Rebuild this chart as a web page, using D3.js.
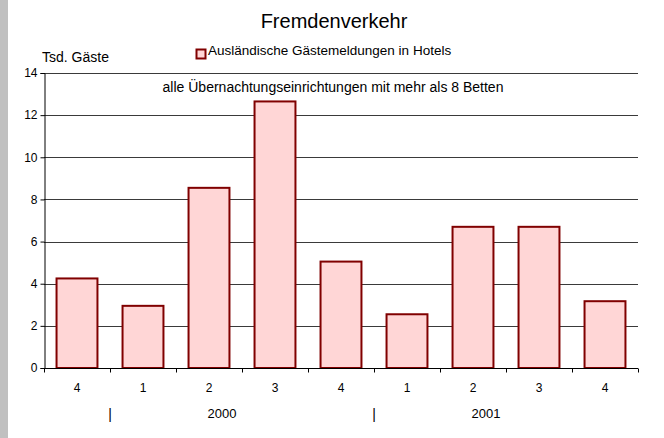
<!DOCTYPE html>
<html>
<head>
<meta charset="utf-8">
<script src="https://cdn.jsdelivr.net/npm/d3@7"></script>
<style>
  html, body { margin: 0; padding: 0; background: #fff; }
  svg text { font-family: "Liberation Sans", Arial, sans-serif; fill: #000; }
</style>
</head>
<body>
<svg id="chart" width="664" height="438"></svg>
<script>
// ---------- data ----------
const quarters = ['4', '1', '2', '3', '4', '1', '2', '3', '4'];
const guests = [4.25, 2.95, 8.55, 12.65, 5.05, 2.55, 6.7, 6.7, 3.17];
const yTicks = [0, 2, 4, 6, 8, 10, 12, 14];
const years = [{ label: '2000', start: 1 }, { label: '2001', start: 5 }];

(function () {
  // ---------- layout ----------
  const svg = d3.select('#chart');
  const plotL = 44, plotR = 638, plotT = 73, plotB = 368;

  svg.append('rect').attr('x', 0).attr('y', 0).attr('width', 8).attr('height', 438).attr('fill', '#c0c0c0');

  const x = d3.scaleBand().domain(d3.range(quarters.length)).range([plotL, plotR])
    .paddingInner(0.38).paddingOuter(0.19);
  const y = d3.scaleLinear().domain([0, 14]).range([plotB, plotT]);

  // gridlines
  svg.append('g').selectAll('line').data(yTicks.filter(d => d > 0)).enter().append('line')
    .attr('x1', plotL).attr('x2', plotR)
    .attr('y1', d => Math.round(y(d)) + 0.5).attr('y2', d => Math.round(y(d)) + 0.5)
    .attr('stroke', '#3a3a3a').attr('stroke-width', 1);

  // bars
  svg.append('g').selectAll('rect').data(guests).enter().append('rect')
    .attr('x', (d, i) => x(i))
    .attr('y', d => y(d))
    .attr('width', x.bandwidth())
    .attr('height', d => y(0) - y(d))
    .attr('fill', '#ffd6d6')
    .attr('stroke', '#800000')
    .attr('stroke-width', 2);

  // y axis
  const yAxis = svg.append('g').attr('transform', `translate(${plotL + 0.5},0)`)
    .call(d3.axisLeft(y).tickValues(yTicks).tickSize(4).tickPadding(3));
  yAxis.select('.domain').attr('stroke', '#000');
  yAxis.selectAll('line').attr('stroke', '#000');
  yAxis.selectAll('text').style('font-size', '12px');

  // x axis, ticks at band boundaries
  const xAxisG = svg.append('g').attr('transform', `translate(0,${Math.round(plotB) + 0.5})`);
  xAxisG.append('line').attr('x1', plotL).attr('x2', plotR).attr('stroke', '#000');
  const step = x.step();
  xAxisG.selectAll('line.tk').data(d3.range(quarters.length + 1)).enter().append('line')
    .attr('class', 'tk')
    .attr('x1', i => Math.round(plotL + i * step) + 0.5).attr('x2', i => Math.round(plotL + i * step) + 0.5)
    .attr('y1', 0).attr('y2', 4).attr('stroke', '#000');
  xAxisG.selectAll('text').data(quarters).enter().append('text')
    .attr('x', (d, i) => x(i) + x.bandwidth() / 2)
    .attr('y', 23.5)
    .attr('text-anchor', 'middle')
    .style('font-size', '12px')
    .text(d => d);

  // year row
  const yr = svg.append('g');
  years.forEach(d => {
    const bx = Math.round(plotL + d.start * step);
    yr.append('text').attr('x', bx).attr('y', 419).attr('text-anchor', 'middle')
      .attr('fill', '#000').style('font-size', '14px').text('|');
    yr.append('text').attr('x', bx + 112).attr('y', 418).attr('text-anchor', 'middle')
      .style('font-size', '13px').text(d.label);
  });

  // titles
  svg.append('text').attr('x', 334).attr('y', 28).attr('text-anchor', 'middle')
    .style('font-size', '20px').text('Fremdenverkehr');
  svg.append('text').attr('x', 42).attr('y', 62).style('font-size', '14px').text('Tsd. Gäste');
  svg.append('text').attr('x', 333).attr('y', 92).attr('text-anchor', 'middle')
    .style('font-size', '14px').text('alle Übernachtungseinrichtungen mit mehr als 8 Betten');

  // legend
  svg.append('rect').attr('x', 196.5).attr('y', 49.5).attr('width', 9).attr('height', 9)
    .attr('fill', '#ffd6d6').attr('stroke', '#800000').attr('stroke-width', 2);
  svg.append('text').attr('x', 208).attr('y', 55).style('font-size', '13.5px')
    .text('Ausländische Gästemeldungen in Hotels');
})();
</script>
</body>
</html>
